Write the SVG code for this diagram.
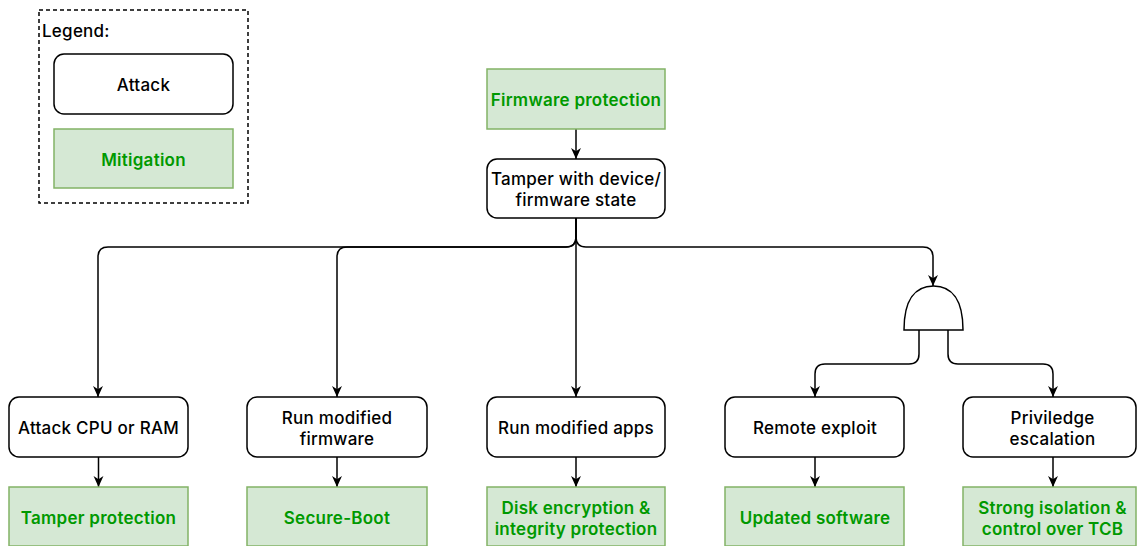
<svg xmlns="http://www.w3.org/2000/svg" width="1137" height="546" viewBox="0 0 1137 546">
  <style>
    .attack { fill: #ffffff; stroke: #000000; stroke-width: 1.5; }
    .mitig { fill: #d5e8d4; stroke: #82b366; stroke-width: 1.5; }
    .legend { fill: none; stroke: #000000; stroke-width: 1.5; stroke-dasharray: 4 3; }
    text { font-family: Inter, "Liberation Sans", sans-serif; font-size: 17px; letter-spacing: 0.25px; text-anchor: middle; }
    .t { fill: #000000; font-weight: 500; }
    .g { fill: #009900; font-weight: 600; }
    .edge { fill: none; stroke: #000000; stroke-width: 1.5; marker-end: url(#arrow); }
    .gate { fill: #ffffff; stroke: #000000; stroke-width: 1.5; }
  </style>
  <defs>
    <marker id="arrow" markerUnits="userSpaceOnUse" viewBox="0 0 10 10" markerWidth="11" markerHeight="11" refX="10" refY="5" orient="auto">
      <path d="M0,0.5 L10,5 L0,9.5 L3,5 Z" fill="#000000"/>
    </marker>
  </defs>

  <!-- legend -->
  <g id="legend">
    <rect class="legend" x="39" y="10" width="209" height="193"/>
    <text x="42" y="37" class="t" style="text-anchor:start">Legend:</text>
    <rect class="attack" x="54" y="54" width="179" height="60" rx="10"/>
    <text x="143.5" y="91" class="t">Attack</text>
    <rect class="mitig" x="54" y="129" width="179" height="59"/>
    <text x="143.5" y="166" class="g">Mitigation</text>
  </g>

  <!-- connectors -->
  <g id="connectors">
    <path class="edge" d="M576,129 V159"/>
    <path class="edge" d="M576,218 V237 Q576,247 566,247 H108 Q98,247 98,257 V397"/>
    <path class="edge" d="M576,218 V237 Q576,247 566,247 H347 Q337,247 337,257 V397"/>
    <path class="edge" d="M576,218 V397"/>
    <path class="edge" d="M576,218 V237 Q576,247 586,247 H923 Q933,247 933,257 V286"/>
    <path class="edge" d="M919,330 V354 Q919,364 909,364 H825 Q815,364 815,374 V397"/>
    <path class="edge" d="M948,330 V354 Q948,364 958,364 H1043 Q1053,364 1053,374 V397"/>
    <path class="edge" d="M98.5,457 V487"/>
    <path class="edge" d="M337,457 V487"/>
    <path class="edge" d="M576,457 V487"/>
    <path class="edge" d="M815,457 V487"/>
    <path class="edge" d="M1053,457 V487"/>
  </g>

  <g id="firmware-protection">
    <rect class="mitig" x="487" y="69" width="178" height="60"/>
    <text x="576" y="106" class="g">Firmware protection</text>
  </g>
  <g id="tamper">
    <rect class="attack" x="487" y="159" width="178" height="59" rx="10"/>
    <text x="576" y="185" class="t">Tamper with device/</text>
    <text x="576" y="206" class="t">firmware state</text>
  </g>

  <g id="and-gate">
    <path class="gate" d="M904,330 C904,300 915,286 933.5,286 C952,286 963,300 963,330 Z"/>
  </g>

  <g id="attack-cpu">
    <rect class="attack" x="9" y="397" width="179" height="60" rx="10"/>
    <text x="98.5" y="434" class="t">Attack CPU or RAM</text>
  </g>
  <g id="tamper-protection">
    <rect class="mitig" x="9" y="487" width="179" height="59"/>
    <text x="98.5" y="524" class="g">Tamper protection</text>
  </g>

  <g id="run-firmware">
    <rect class="attack" x="247" y="397" width="180" height="60" rx="10"/>
    <text x="337" y="424" class="t">Run modified</text>
    <text x="337" y="445" class="t">firmware</text>
  </g>
  <g id="secure-boot">
    <rect class="mitig" x="247" y="487" width="180" height="59"/>
    <text x="337" y="524" class="g">Secure-Boot</text>
  </g>

  <g id="run-apps">
    <rect class="attack" x="487" y="397" width="178" height="60" rx="10"/>
    <text x="576" y="434" class="t">Run modified apps</text>
  </g>
  <g id="disk-encryption">
    <rect class="mitig" x="487" y="487" width="178" height="59"/>
    <text x="576" y="514" class="g">Disk encryption &amp;</text>
    <text x="576" y="535" class="g">integrity protection</text>
  </g>

  <g id="remote-exploit">
    <rect class="attack" x="725" y="397" width="179" height="60" rx="10"/>
    <text x="815" y="434" class="t">Remote exploit</text>
  </g>
  <g id="updated-software">
    <rect class="mitig" x="725" y="487" width="179" height="59"/>
    <text x="815" y="524" class="g">Updated software</text>
  </g>

  <g id="privilege-escalation">
    <rect class="attack" x="963" y="397" width="173" height="60" rx="10"/>
    <text x="1052.5" y="424" class="t">Priviledge</text>
    <text x="1052.5" y="445" class="t">escalation</text>
  </g>
  <g id="strong-isolation">
    <rect class="mitig" x="963" y="487" width="173" height="59"/>
    <text x="1052.5" y="514" class="g">Strong isolation &amp;</text>
    <text x="1052.5" y="535" class="g">control over TCB</text>
  </g>
</svg>
